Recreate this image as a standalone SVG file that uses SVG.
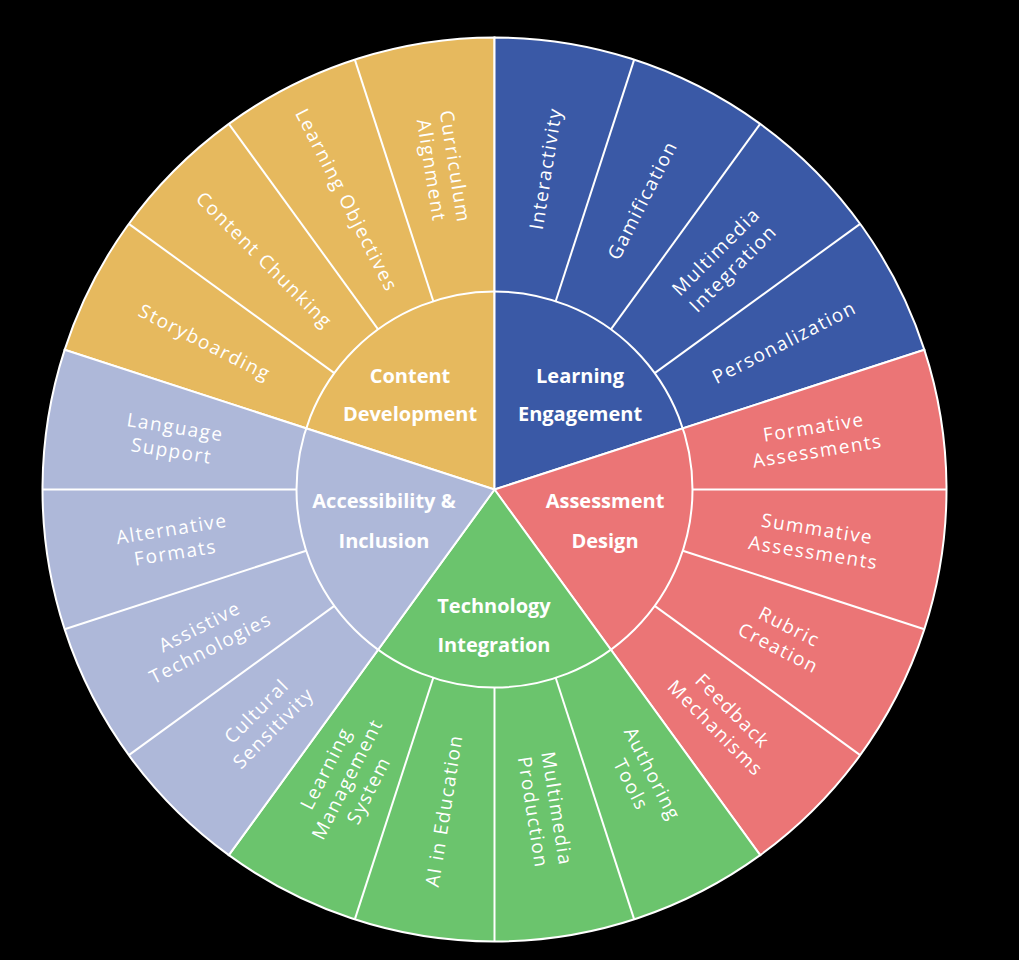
<svg xmlns="http://www.w3.org/2000/svg" width="1019" height="960" viewBox="0 0 1019 960">
<style>
.w{stroke:#fff;stroke-width:2}
.leaf{font-family:"Open Sans","Liberation Sans",sans-serif;font-size:19px;fill:#fff;letter-spacing:1.5px;text-anchor:middle;dominant-baseline:central}
.cat{font-family:"Open Sans","Liberation Sans",sans-serif;font-size:20px;font-weight:bold;fill:#fff;text-anchor:middle;dominant-baseline:central}
</style>
<rect width="1019" height="960" fill="#000"/>
<g id="content-development">
<path class="w" fill="#E6B95E" d="M494.5 489.5 L64.62 349.82 A452 452 0 0 1 494.5 37.5 Z"/>
<text class="cat" x="410" y="375">Content</text><text class="cat" x="410" y="413">Development</text>
</g>
<g id="learning-engagement">
<path class="w" fill="#3A59A6" d="M494.5 489.5 L494.5 37.5 A452 452 0 0 1 924.38 349.82 Z"/>
<text class="cat" x="580" y="375">Learning</text><text class="cat" x="580" y="413">Engagement</text>
</g>
<g id="assessment-design">
<path class="w" fill="#EB7576" d="M494.5 489.5 L924.38 349.82 A452 452 0 0 1 760.18 855.18 Z"/>
<text class="cat" x="605" y="500">Assessment</text><text class="cat" x="605" y="540">Design</text>
</g>
<g id="technology-integration">
<path class="w" fill="#6BC46D" d="M494.5 489.5 L760.18 855.18 A452 452 0 0 1 228.82 855.18 Z"/>
<text class="cat" x="494" y="605">Technology</text><text class="cat" x="494" y="644">Integration</text>
</g>
<g id="accessibility-inclusion">
<path class="w" fill="#AEB8D9" d="M494.5 489.5 L228.82 855.18 A452 452 0 0 1 64.62 349.82 Z"/>
<text class="cat" x="384" y="500">Accessibility &amp;</text><text class="cat" x="384" y="540">Inclusion</text>
</g>
<g id="connectors" class="w" fill="none">
<circle cx="494.5" cy="489.5" r="198"/>
<g transform="translate(494.5 489.5)">
<line x1="198" x2="452" transform="rotate(216)"/><line x1="198" x2="452" transform="rotate(234)"/><line x1="198" x2="452" transform="rotate(252)"/>
<line x1="198" x2="452" transform="rotate(288)"/><line x1="198" x2="452" transform="rotate(306)"/><line x1="198" x2="452" transform="rotate(324)"/>
<line x1="198" x2="452" transform="rotate(0)"/><line x1="198" x2="452" transform="rotate(18)"/><line x1="198" x2="452" transform="rotate(36)"/>
<line x1="198" x2="452" transform="rotate(72)"/><line x1="198" x2="452" transform="rotate(90)"/><line x1="198" x2="452" transform="rotate(108)"/>
<line x1="198" x2="452" transform="rotate(144)"/><line x1="198" x2="452" transform="rotate(162)"/><line x1="198" x2="452" transform="rotate(180)"/>
</g>
</g>
<g id="leaves" transform="translate(494.5 489.5)">
<text class="leaf" transform="rotate(207) translate(325 0) rotate(180)">Storyboarding</text>
<text class="leaf" transform="rotate(225) translate(325 0) rotate(180)">Content Chunking</text>
<text class="leaf" transform="rotate(243) translate(325 0) rotate(180)">Learning Objectives</text>
<text class="leaf" transform="rotate(261) translate(325 0) rotate(180)"><tspan x="0" y="-12">Curriculum</tspan><tspan x="0" y="12">Alignment</tspan></text>
<text class="leaf" transform="rotate(279) translate(325 0)">Interactivity</text>
<text class="leaf" transform="rotate(297) translate(325 0)">Gamification</text>
<text class="leaf" transform="rotate(315) translate(325 0)"><tspan x="0" y="-12">Multimedia</tspan><tspan x="0" y="12">Integration</tspan></text>
<text class="leaf" transform="rotate(333) translate(325 0)">Personalization</text>
<text class="leaf" transform="rotate(351) translate(325 0)"><tspan x="0" y="-12">Formative</tspan><tspan x="0" y="12">Assessments</tspan></text>
<text class="leaf" transform="rotate(9) translate(325 0)"><tspan x="0" y="-12">Summative</tspan><tspan x="0" y="12">Assessments</tspan></text>
<text class="leaf" transform="rotate(27) translate(325 0)"><tspan x="0" y="-12">Rubric</tspan><tspan x="0" y="12">Creation</tspan></text>
<text class="leaf" transform="rotate(45) translate(325 0)"><tspan x="0" y="-12">Feedback</tspan><tspan x="0" y="12">Mechanisms</tspan></text>
<text class="leaf" transform="rotate(63) translate(325 0)"><tspan x="0" y="-12">Authoring</tspan><tspan x="0" y="12">Tools</tspan></text>
<text class="leaf" transform="rotate(81) translate(325 0)"><tspan x="0" y="-12">Multimedia</tspan><tspan x="0" y="12">Production</tspan></text>
<text class="leaf" transform="rotate(99) translate(325 0) rotate(180)">AI in Education</text>
<text class="leaf" transform="rotate(117) translate(325 0) rotate(180)"><tspan x="0" y="-24">Learning</tspan><tspan x="0" y="0">Management</tspan><tspan x="0" y="24">System</tspan></text>
<text class="leaf" transform="rotate(135) translate(325 0) rotate(180)"><tspan x="0" y="-12">Cultural</tspan><tspan x="0" y="12">Sensitivity</tspan></text>
<text class="leaf" transform="rotate(153) translate(325 0) rotate(180)"><tspan x="0" y="-12">Assistive</tspan><tspan x="0" y="12">Technologies</tspan></text>
<text class="leaf" transform="rotate(171) translate(325 0) rotate(180)"><tspan x="0" y="-12">Alternative</tspan><tspan x="0" y="12">Formats</tspan></text>
<text class="leaf" transform="rotate(189) translate(325 0) rotate(180)"><tspan x="0" y="-12">Language</tspan><tspan x="0" y="12">Support</tspan></text>
</g>
</svg>
